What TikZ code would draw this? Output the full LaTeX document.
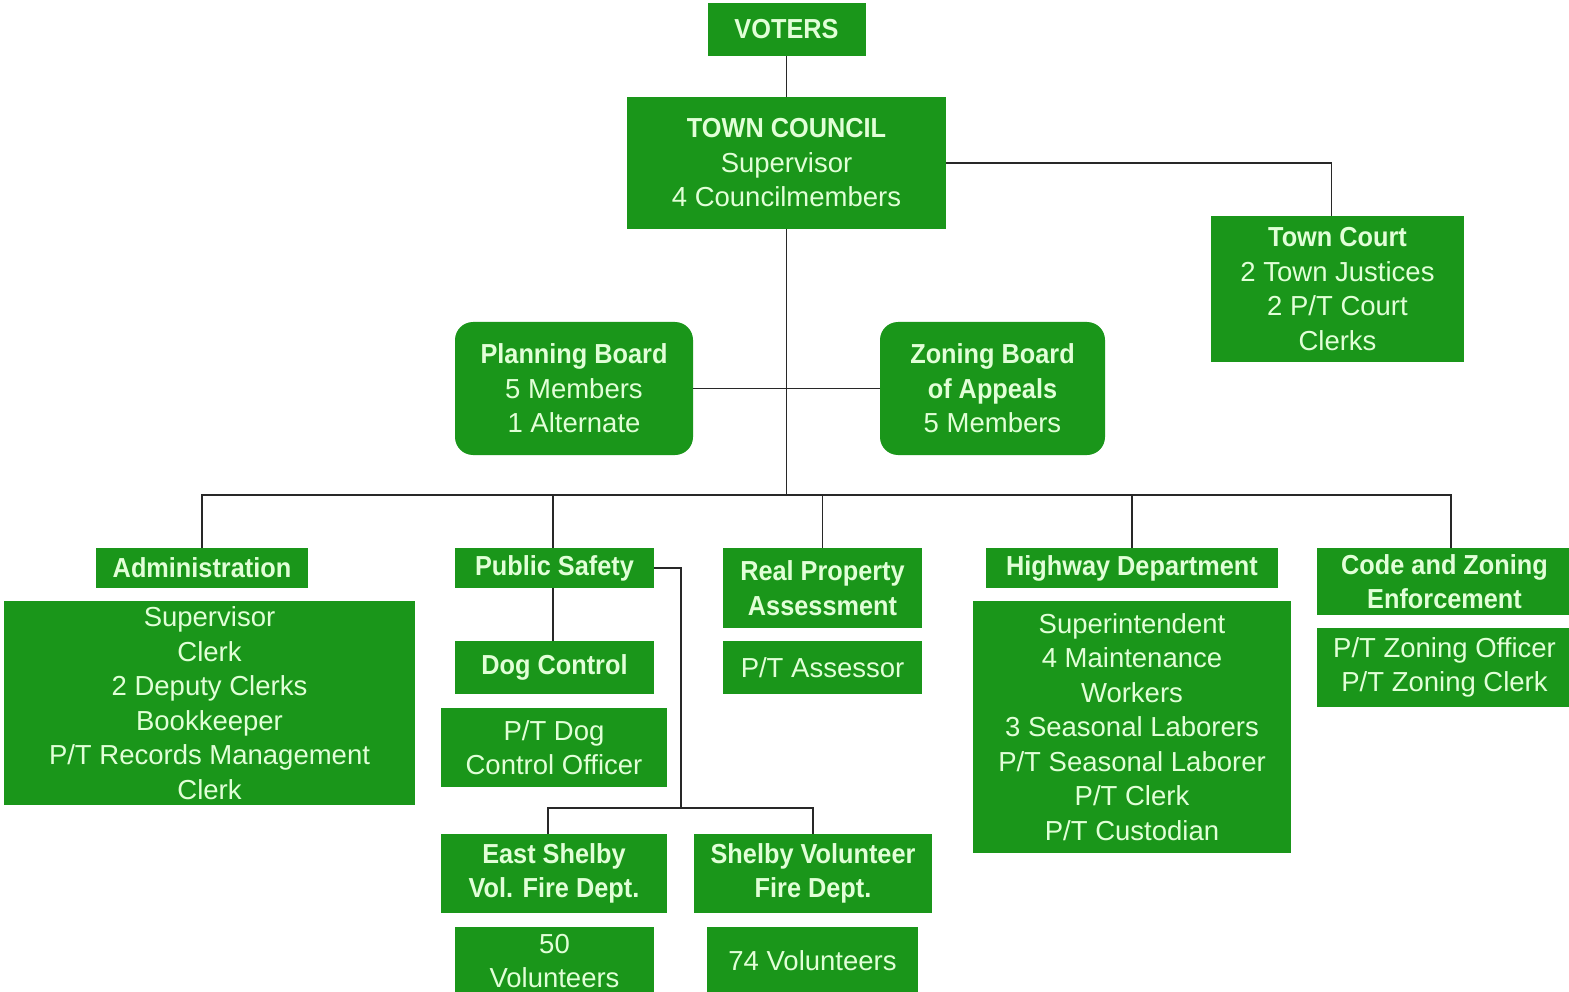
\documentclass[tikz,border=0pt]{standalone}
\usepackage{fontspec}
\setmainfont{Liberation Sans}
\newfontfamily\hdfont[FakeStretch=0.92]{Liberation Sans}
\newcommand{\hb}[1]{{\hdfont\bfseries #1}}
\definecolor{boxgreen}{RGB}{26,150,26}
\definecolor{txtgreen}{RGB}{225,255,215}
\definecolor{linegray}{RGB}{40,40,40}
\tikzset{
  gbox/.style={fill=boxgreen, text=txtgreen, inner sep=0pt, align=center,
    font=\fontsize{27.5}{34.5}\selectfont},
  rbox/.style={gbox, rounded corners=18pt},
  conn/.style={draw=linegray, line width=1.6pt}
}
\begin{document}
\begin{tikzpicture}[x=1pt,y=-1pt]
\useasboundingbox (0,0) rectangle (1569,992);
\fill[white] (0,0) rectangle (1569,992);

\node[gbox, minimum width=158pt, minimum height=53pt] (voters) at (786.5,29.5) {\hb{VOTERS}};
\node[gbox, minimum width=319pt, minimum height=132pt] (council) at (786.5,163) {\hb{TOWN COUNCIL}\\Supervisor\\4 Councilmembers};
\node[gbox, minimum width=253pt, minimum height=146pt] (court) at (1337.5,289) {\hb{Town Court}\\2 Town Justices\\2 P/T Court\\Clerks};
\node[rbox, minimum width=238pt, minimum height=133pt] (planning) at (574,388.5) {\hb{Planning Board}\\5 Members\\1 Alternate};
\node[rbox, minimum width=225pt, minimum height=133pt] (zoning) at (992.5,388.5) {\hb{Zoning Board}\\\hb{of Appeals}\\5 Members};

\node[gbox, minimum width=212pt, minimum height=40pt] (adminH) at (202,568) {\hb{Administration}};
\node[gbox, minimum width=411pt, minimum height=204pt] (adminB) at (209.5,703) {Supervisor\\Clerk\\2 Deputy Clerks\\Bookkeeper\\P/T Records Management\\Clerk};

\node[gbox, minimum width=199pt, minimum height=40pt] (psH) at (554.5,568) {\hb{Public Safety}};
\node[gbox, minimum width=199pt, minimum height=53pt] (dog) at (554.5,667.5) {\hb{Dog Control}};
\node[gbox, minimum width=226pt, minimum height=79pt] (dogB) at (554,747.5) {P/T Dog\\Control Officer};
\node[gbox, minimum width=226pt, minimum height=79pt] (east) at (554,873.5) {\hb{East Shelby}\\\hb{Vol. Fire Dept.}};
\node[gbox, minimum width=199pt, minimum height=68pt] (vol50) at (554.5,961) {50\\Volunteers};
\node[gbox, minimum width=238pt, minimum height=79pt] (shelby) at (813,873.5) {\hb{Shelby Volunteer}\\\hb{Fire Dept.}};
\node[gbox, minimum width=211pt, minimum height=68pt] (vol74) at (812.5,961) {74 Volunteers};

\node[gbox, minimum width=199pt, minimum height=80pt] (rpa) at (822.5,588) {\hb{Real Property}\\\hb{Assessment}};
\node[gbox, minimum width=199pt, minimum height=53pt] (assessor) at (822.5,667.5) {P/T Assessor};

\node[gbox, minimum width=292pt, minimum height=40pt] (hwyH) at (1132,568) {\hb{Highway Department}};
\node[gbox, minimum width=318pt, minimum height=252pt] (hwyB) at (1132,727) {Superintendent\\4 Maintenance\\Workers\\3 Seasonal Laborers\\P/T Seasonal Laborer\\P/T Clerk\\P/T Custodian};

\node[gbox, minimum width=255pt, minimum height=67pt] (codeH) at (1444.5,581.5) {\hb{Code and Zoning}\\\hb{Enforcement}};
\node[gbox, minimum width=255pt, minimum height=79pt] (codeB) at (1444.5,667.5) {P/T Zoning Officer\\P/T Zoning Clerk};

\coordinate (bus) at (786.5,495);
\coordinate (fj) at (681,808);

\draw[conn] (voters.south) -- (council.north);
\draw[conn] (council.south) -- (bus);
\draw[conn] (planning.east) -- (zoning.west);
\draw[conn] (council.east) -| ([xshift=-6pt]court.north);
\draw[conn] (adminH.north) |- (bus) -| ([xshift=6.5pt]codeH.north);
\draw[conn] ([xshift=-1.5pt]psH.north) |- (bus);
\draw[conn] (rpa.north) |- (bus);
\draw[conn] (hwyH.north) |- (bus);
\draw[conn] ([xshift=-1.5pt]psH.south) -- ([xshift=-1.5pt]dog.north);
\draw[conn] (psH.east) -| (fj);
\draw[conn] ([xshift=-6pt]east.north) |- (fj) -| (shelby.north);
\end{tikzpicture}
\end{document}
